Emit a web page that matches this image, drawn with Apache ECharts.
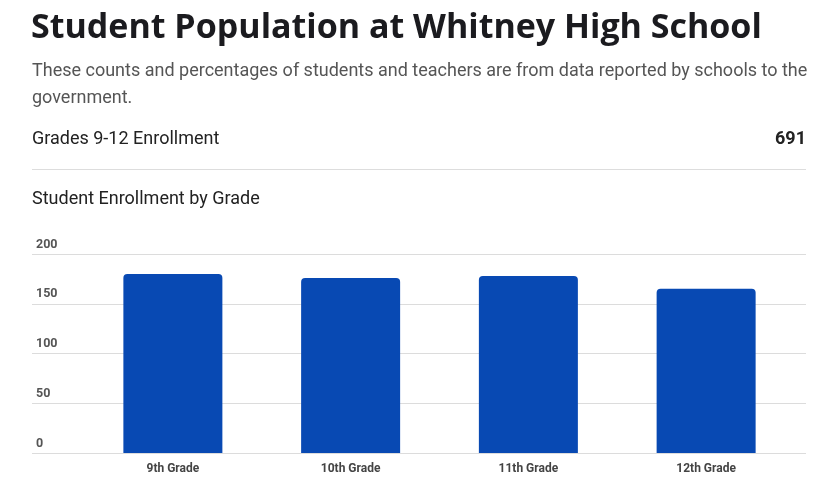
<!DOCTYPE html>
<html>
<head>
<meta charset="utf-8">
<script src="https://cdn.jsdelivr.net/npm/echarts@6/dist/echarts.min.js"></script>
<style>
html,body{margin:0;padding:0;background:#fff;}
#c{width:827px;height:504px;}
</style>
</head>
<body>
<div id="c"></div>
<script>
const categories = ['9th Grade', '10th Grade', '11th Grade', '12th Grade'];
const enrollment = [180, 176, 178, 165];
const yTicks = [0, 50, 100, 150, 200];
const titleText = 'Student Population at Whitney High School';
const subtitleLines = ['These counts and percentages of students and teachers are from data reported by schools to the', 'government.'];
const statLabel = 'Grades 9-12 Enrollment';
const statValue = '691';
const chartLabel = 'Student Enrollment by Grade';

const chart = echarts.init(document.getElementById('c'), null, {renderer: 'canvas'});
const yMin = yTicks[0], yMax = yTicks[yTicks.length - 1], yStep = yTicks[1] - yTicks[0];

chart.setOption({
  animation: false,
  backgroundColor: '#fff',
  graphic: [
    {type: 'text', left: 31, top: 11, style: {text: titleText, font: 'bold 34px "Open Sans", sans-serif', fill: '#1b1b1f'}},
    {type: 'text', left: 32, top: 58, style: {text: subtitleLines.join('\n'), font: '18px Roboto, sans-serif', fill: '#555', lineHeight: 27}},
    {type: 'text', left: 32, top: 130, style: {text: statLabel, font: '18px Roboto, sans-serif', fill: '#222'}},
    {type: 'text', right: 21, top: 130, style: {text: statValue, font: 'bold 18px Roboto, sans-serif', fill: '#222', align: 'right'}},
    {type: 'rect', shape: {x: 32, y: 169, width: 774, height: 1}, style: {fill: '#ddd'}},
    {type: 'text', left: 32, top: 190, style: {text: chartLabel, font: '18px Roboto, sans-serif', fill: '#222'}}
  ],
  grid: [
    {left: 32, right: 21, top: 254, bottom: 51, containLabel: false},
    {left: 84, right: 32, top: 254, bottom: 51, containLabel: false}
  ],
  xAxis: [
    {gridIndex: 0, type: 'category', data: categories, show: false},
    {gridIndex: 1, type: 'category', data: categories,
      axisLine: {show: false}, axisTick: {show: false},
      axisLabel: {color: '#444', fontFamily: 'Roboto', fontWeight: 'bold', fontSize: 12, margin: 10}}
  ],
  yAxis: [
    {gridIndex: 0, type: 'value', min: yMin, max: yMax, interval: yStep,
      axisLine: {show: false}, axisTick: {show: false},
      splitLine: {lineStyle: {color: '#dcdcdc', width: 1}},
      axisLabel: {inside: true, margin: 4, verticalAlign: 'bottom', padding: [0, 0, 3, 0],
        color: '#555', fontFamily: 'Roboto', fontWeight: 'bold', fontSize: 12.5, textBorderWidth: 0}},
    {gridIndex: 1, type: 'value', min: yMin, max: yMax, interval: yStep, show: false}
  ],
  series: [{
    type: 'bar', xAxisIndex: 1, yAxisIndex: 1, data: enrollment,
    barWidth: 99,
    itemStyle: {color: '#0849b3', borderRadius: [4, 4, 0, 0]}
  }]
});
</script>
</body>
</html>
